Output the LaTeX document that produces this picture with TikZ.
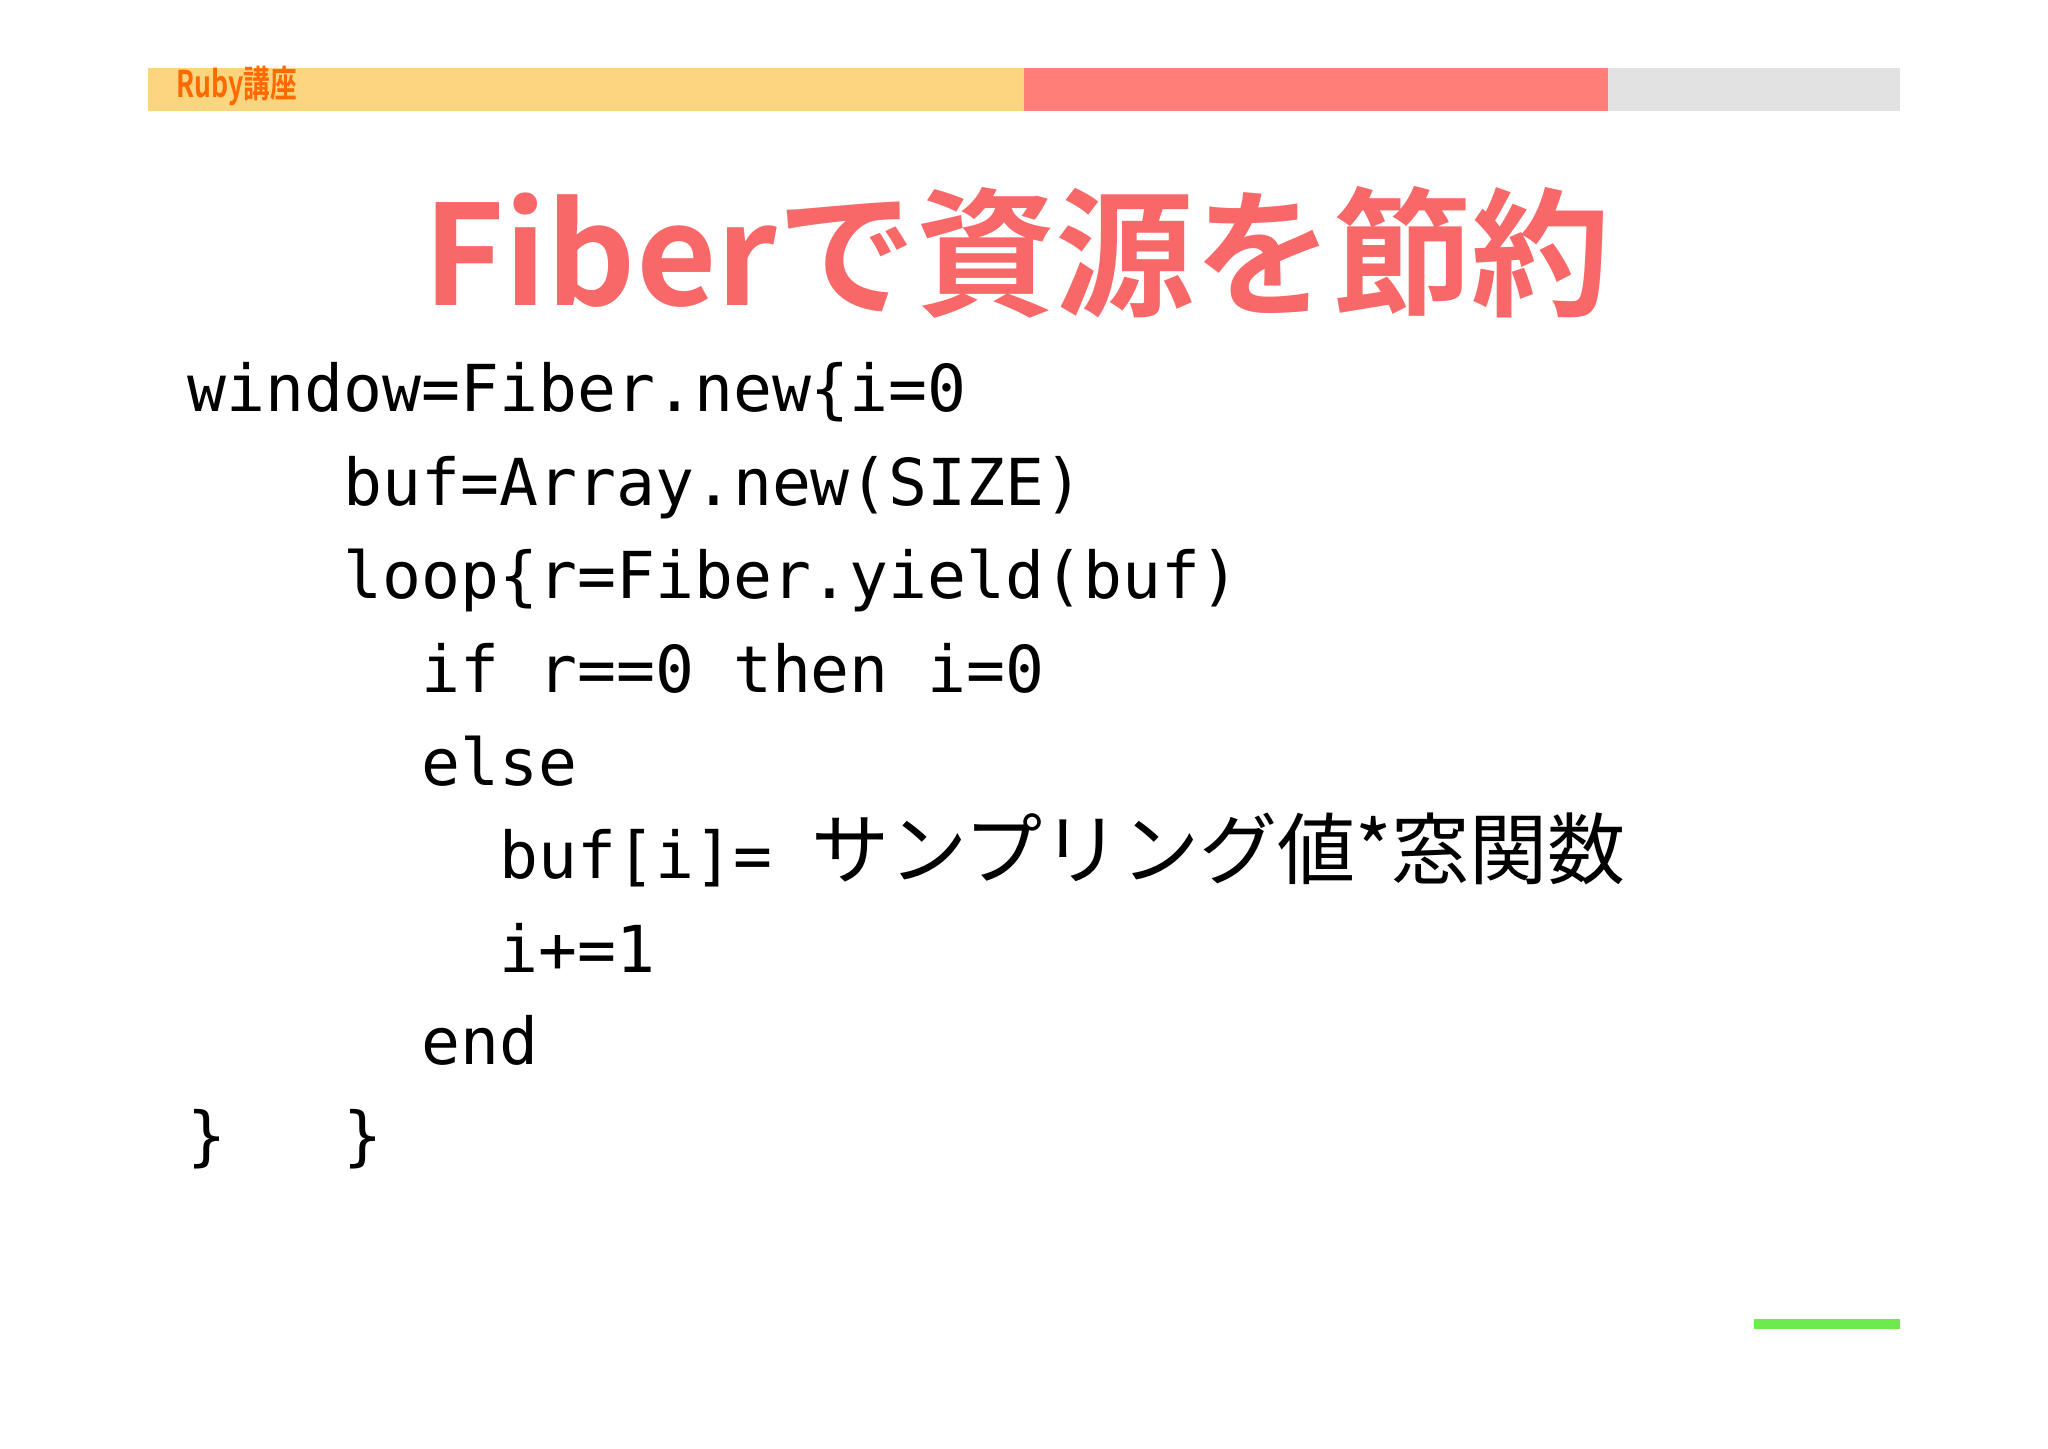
\documentclass[tikz,border=0pt]{standalone}
\usepackage{fontspec}
\setmonofont{DejaVu Sans Mono}
\newfontfamily\jpfont{Noto Sans CJK JP}
\newfontfamily\jpbold{Noto Sans CJK JP Bold}
\definecolor{baryel}{HTML}{FCD57E}
\definecolor{barred}{HTML}{FF7F78}
\definecolor{bargray}{HTML}{E2E2E2}
\definecolor{titlered}{HTML}{F86868}
\definecolor{rubyor}{HTML}{FF6A00}
\definecolor{grn}{HTML}{6EEB4A}
\begin{document}
\begin{tikzpicture}[x=0.01cm,y=-0.01cm,
  code/.style={anchor=base west,inner sep=0pt,font=\fontsize{18.4}{20}\ttfamily}]
\useasboundingbox (0,0) rectangle (2048,1448);
\fill[baryel] (148,68) rectangle (1024,111);
\fill[barred] (1024,68) rectangle (1608,111);
\fill[bargray] (1608,68) rectangle (1900,111);
\node[anchor=west,inner sep=0pt,text=rubyor,font=\fontsize{10.5}{12}\jpbold] (hdr) at (176,86) {\scalebox{0.72}[1]{Ruby講座}};
\node[anchor=center,inner sep=0pt,text=titlered,font=\fontsize{39.5}{44}\jpbold] (title) at (1017,252) {Fiberで資源を節約};
\node[code] (l1) at (187,411) {window=Fiber.new\{i=0};
\node[code] (l2) at (187,505) {\ \ \ \ buf=Array.new(SIZE)};
\node[code] (l3) at (187,598) {\ \ \ \ loop\{r=Fiber.yield(buf)};
\node[code] (l4) at (187,692) {\ \ \ \ \ \ if r==0 then i=0};
\node[code] (l5) at (187,785) {\ \ \ \ \ \ else};
\node[code] (l6) at (187,878) {\ \ \ \ \ \ \ \ buf[i]= {\jpfont\fontsize{22.2}{24}\selectfont サンプリング値*窓関数}};
\node[code] (l7) at (187,972) {\ \ \ \ \ \ \ \ i+=1};
\node[code] (l8) at (187,1064) {\ \ \ \ \ \ end};
\node[code] (l9) at (187,1158) {\}\ \ \ \}};
\coordinate (g1) at (1754,1324);
\coordinate (g2) at (1900,1324);
\draw[grn,line width=2.6pt] (g1) -- (g2);
\end{tikzpicture}
\end{document}
